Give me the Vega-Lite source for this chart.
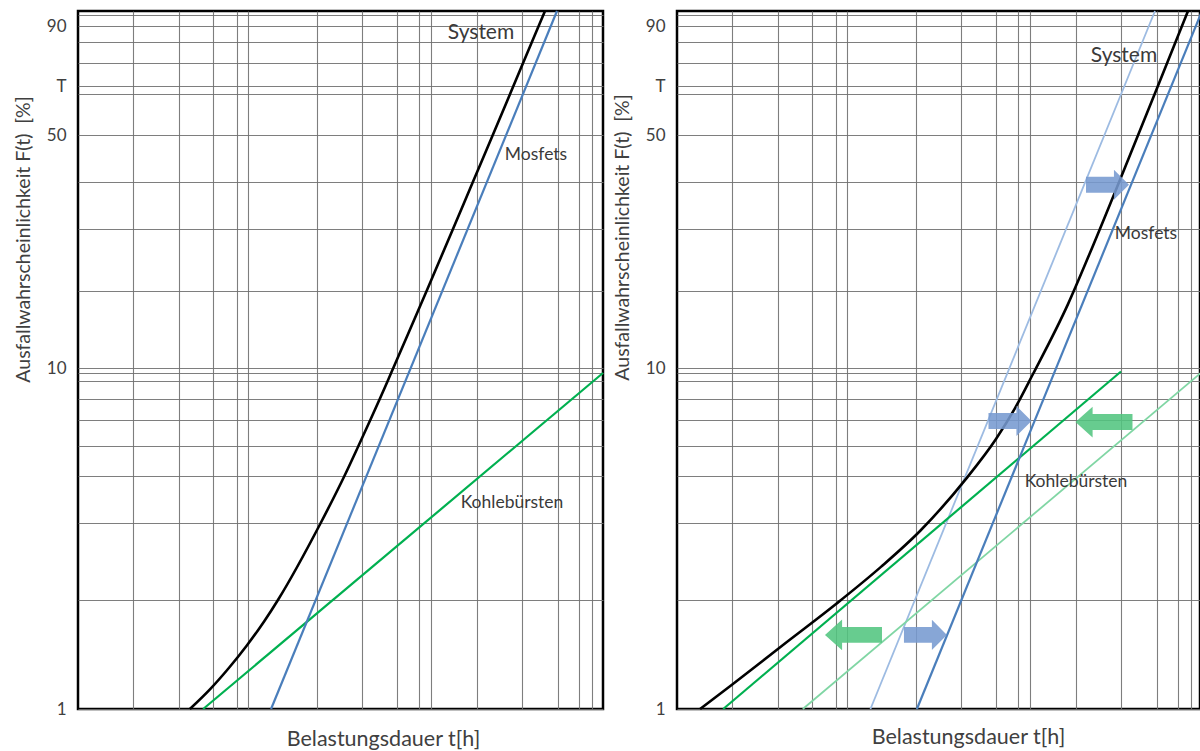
{
  "$schema": "https://vega.github.io/schema/vega-lite/v6.json",
  "padding": {"left": 11, "top": 4, "right": 0, "bottom": 0},
  "background": "white",
  "config": {
    "view": {"stroke": "#000000", "strokeWidth": 2.5},
    "font": "Lato",
    "axis": {
      "labelFont": "Lato", "titleFont": "Lato",
      "labelColor": "#404040", "titleColor": "#404040", "titleFontWeight": "normal",
      "gridColor": "#707070", "gridWidth": 1.1, "gridOpacity": 0.9,
      "ticks": false, "domain": false, "labelOverlap": false, "labelFlush": false, "labelBound": false
    }
  },
  "datasets": {
    "leftLines": [
      {"series": "Kohlebürsten", "t": 27.1, "F": 1},
      {"series": "Kohlebürsten", "t": 6000, "F": 9},
      {"series": "Mosfets", "t": 66.7, "F": 1},
      {"series": "Mosfets", "t": 2972, "F": 99},
      {"series": "System", "t": 23.2, "F": 1},
      {"series": "System", "t": 29.1, "F": 1.18},
      {"series": "System", "t": 36.6, "F": 1.376},
      {"series": "System", "t": 48.6, "F": 1.578},
      {"series": "System", "t": 61.9, "F": 1.807},
      {"series": "System", "t": 71.7, "F": 2},
      {"series": "System", "t": 108.2, "F": 3},
      {"series": "System", "t": 160.9, "F": 4},
      {"series": "System", "t": 192, "F": 5},
      {"series": "System", "t": 223.7, "F": 6},
      {"series": "System", "t": 273.4, "F": 8},
      {"series": "System", "t": 289.4, "F": 10},
      {"series": "System", "t": 463.3, "F": 20},
      {"series": "System", "t": 739, "F": 30},
      {"series": "System", "t": 955, "F": 40},
      {"series": "System", "t": 1351, "F": 50},
      {"series": "System", "t": 1809, "F": 63.2},
      {"series": "System", "t": 2275, "F": 80},
      {"series": "System", "t": 2639, "F": 99}
    ],
    "leftLabels": [
      {"label": "System", "t": 1089, "F": 85.6},
      {"label": "Mosfets", "t": 2389, "F": 45.7},
      {"label": "Kohlebürsten", "t": 1778, "F": 3.43}
    ],
    "rightLines": [
      {"series": "Mosfets alt", "t": 67, "F": 1},
      {"series": "Mosfets alt", "t": 2944, "F": 99},
      {"series": "Kohlebürsten alt", "t": 27.3, "F": 1},
      {"series": "Kohlebürsten alt", "t": 6000, "F": 9.2},
      {"series": "Kohlebürsten", "t": 9.2, "F": 1},
      {"series": "Kohlebürsten", "t": 2000, "F": 9.3},
      {"series": "Mosfets", "t": 102, "F": 1},
      {"series": "Mosfets", "t": 6000, "F": 99},
      {"series": "System", "t": 7.1, "F": 1},
      {"series": "System", "t": 10.2, "F": 1.229},
      {"series": "System", "t": 21.1, "F": 1.578},
      {"series": "System", "t": 40, "F": 1.963},
      {"series": "System", "t": 74.6, "F": 2.43},
      {"series": "System", "t": 108.9, "F": 2.896},
      {"series": "System", "t": 214.3, "F": 3.94},
      {"series": "System", "t": 300, "F": 5.27},
      {"series": "System", "t": 384, "F": 6.52},
      {"series": "System", "t": 532.6, "F": 8.875},
      {"series": "System", "t": 913, "F": 18.3},
      {"series": "System", "t": 1300, "F": 25.97},
      {"series": "System", "t": 2069, "F": 42.3},
      {"series": "System", "t": 3024, "F": 62.8},
      {"series": "System", "t": 4769, "F": 99}
    ],
    "rightLabels": [
      {"label": "System", "t": 2083, "F": 73.3},
      {"label": "Mosfets", "t": 2694, "F": 29.2},
      {"label": "Kohlebürsten", "t": 1000, "F": 3.87}
    ],
    "arrows": [
      {"dir": "rechts", "t": 1700, "F": 39.4},
      {"dir": "rechts", "t": 363.6, "F": 5.96},
      {"dir": "rechts", "t": 121, "F": 1.68},
      {"dir": "links", "t": 1622, "F": 5.92},
      {"dir": "links", "t": 54.7, "F": 1.68}
    ]
  },
  "spacing": 1,
  "resolve": {"scale": {"x": "independent", "y": "independent"}},
  "hconcat": [
    {
      "width": 525,
      "height": 698,
      "layer": [
        {
          "data": {"name": "leftLines"},
          "mark": {"type": "line", "interpolate": "monotone"},
          "encoding": {
            "x": {
              "field": "t", "type": "quantitative",
              "scale": {"type": "linear", "domain": [5,10,20,30,40,50,100,200,300,400,500,1000,2000,3000,4000,5000,6000], "range": [0,55,101,135,159,170,239,284,319,341,353,399,444,480,501,514,525], "nice": false, "zero": false},
              "axis": {"values": [10,20,30,40,50,100,200,300,400,500,1000,2000,3000,4000,5000], "tickCount": 100, "labels": false, "grid": true, "title": "Belastungsdauer t[h]", "titleFontSize": 21.5, "titleX": 305, "titleY": 19, "titleBaseline": "top", "titleAlign": "center"}
            },
            "y": {
              "field": "F", "type": "quantitative",
              "scale": {"type": "linear", "domain": [1,2,3,4,5,6,7,8,9,10,20,30,40,50,60,63.2,70,80,90,95,99], "range": [698,589,512,465,435,409,388,370,362,357,280,218,171,124,83,75,52,31,15,4,0], "nice": false, "zero": false},
              "axis": {"values": [1,2,3,4,5,6,7,8,9,10,20,30,40,50,60,63.2,70,80,90,95], "tickCount": 100, "labelOverlap": false, "labelExpr": "datum.value == 63.2 ? 'T' : ((datum.value == 1 || datum.value == 10 || datum.value == 50 || datum.value == 90) ? '' + datum.value : '')", "labelFontSize": 17, "labelPadding": 12, "grid": true, "title": "Ausfallwahrscheinlichkeit F(t)\u2002[%]", "titleFontSize": 19.5, "titleX": -45, "titleY": 228, "titleAngle": 270, "titleAlign": "center", "titleBaseline": "bottom"}
            },
            "color": {"field": "series", "type": "nominal", "scale": {"domain": ["System", "Mosfets", "Kohlebürsten", "Mosfets alt", "Kohlebürsten alt"], "range": ["#000000", "#4a7ebb", "#00b050", "#9dbbe2", "#80d6a4"]}, "legend": null},
            "strokeWidth": {"condition": [{"test": "datum.series == 'System'", "value": 2.6}, {"test": "datum.series == 'Mosfets alt' || datum.series == 'Kohlebürsten alt'", "value": 1.8}], "value": 2.2}
          }
        },
        {
          "data": {"name": "leftLabels"},
          "mark": {"type": "text", "font": "Lato", "color": "#3a3a3a", "align": "center", "baseline": "middle"},
          "encoding": {
            "x": {"field": "t", "type": "quantitative"},
            "y": {"field": "F", "type": "quantitative"},
            "text": {"field": "label"},
            "size": {"condition": {"test": "datum.label == 'System'", "value": 21}, "value": 17.5}
          }
        }
      ]
    },
    {
      "width": 523,
      "height": 698,
      "layer": [
        {
          "data": {"name": "rightLines"},
          "mark": {"type": "line", "interpolate": "monotone"},
          "encoding": {
            "x": {
              "field": "t", "type": "quantitative",
              "scale": {"type": "linear", "domain": [5,10,20,30,40,50,100,200,300,400,500,1000,2000,3000,4000,5000,6000], "range": [0,55,101,135,159,170,239,284,319,341,353,399,444,480,501,514,525], "nice": false, "zero": false},
              "axis": {"values": [10,20,30,40,50,100,200,300,400,500,1000,2000,3000,4000,5000], "tickCount": 100, "labels": false, "grid": true, "title": "Belastungsdauer t[h]", "titleFontSize": 21.5, "titleX": 291, "titleY": 17, "titleBaseline": "top", "titleAlign": "center"}
            },
            "y": {
              "field": "F", "type": "quantitative",
              "scale": {"type": "linear", "domain": [1,2,3,4,5,6,7,8,9,10,20,30,40,50,60,63.2,70,80,90,95,99], "range": [698,589,512,465,435,409,388,370,362,357,280,218,171,124,83,75,52,31,15,4,0], "nice": false, "zero": false},
              "axis": {"values": [1,2,3,4,5,6,7,8,9,10,20,30,40,50,60,63.2,70,80,90,95], "tickCount": 100, "labelOverlap": false, "labelExpr": "datum.value == 63.2 ? 'T' : ((datum.value == 1 || datum.value == 10 || datum.value == 50 || datum.value == 90) ? '' + datum.value : '')", "labelFontSize": 17, "labelPadding": 12, "grid": true, "title": "Ausfallwahrscheinlichkeit F(t)\u2002[%]", "titleFontSize": 19.5, "titleX": -45, "titleY": 226, "titleAngle": 270, "titleAlign": "center", "titleBaseline": "bottom"}
            },
            "color": {"field": "series", "type": "nominal", "scale": {"domain": ["System", "Mosfets", "Kohlebürsten", "Mosfets alt", "Kohlebürsten alt"], "range": ["#000000", "#4a7ebb", "#00b050", "#9dbbe2", "#80d6a4"]}, "legend": null},
            "strokeWidth": {"condition": [{"test": "datum.series == 'System'", "value": 2.6}, {"test": "datum.series == 'Mosfets alt' || datum.series == 'Kohlebürsten alt'", "value": 1.8}], "value": 2.2}
          }
        },
        {
          "data": {"name": "arrows"},
          "mark": {"type": "point", "filled": true, "opacity": 0.88, "strokeWidth": 0},
          "encoding": {
            "x": {"field": "t", "type": "quantitative"},
            "y": {"field": "F", "type": "quantitative"},
            "shape": {"condition": {"test": "datum.dir == 'rechts'", "value": "M-1,-0.37L0.3,-0.37L0.3,-0.7L1,0L0.3,0.7L0.3,0.37L-1,0.37Z"}, "value": "M1,-0.28L-0.4,-0.28L-0.4,-0.54L-1,0L-0.4,0.54L-0.4,0.28L1,0.28Z"},
            "size": {"condition": {"test": "datum.dir == 'rechts'", "value": 1849}, "value": 3249},
            "fill": {"condition": {"test": "datum.dir == 'rechts'", "value": "#769ad0"}, "value": "#52c57f"}
          }
        },
        {
          "data": {"name": "rightLabels"},
          "mark": {"type": "text", "font": "Lato", "color": "#3a3a3a", "align": "center", "baseline": "middle"},
          "encoding": {
            "x": {"field": "t", "type": "quantitative"},
            "y": {"field": "F", "type": "quantitative"},
            "text": {"field": "label"},
            "size": {"condition": {"test": "datum.label == 'System'", "value": 21}, "value": 17.5}
          }
        }
      ]
    }
  ]
}
